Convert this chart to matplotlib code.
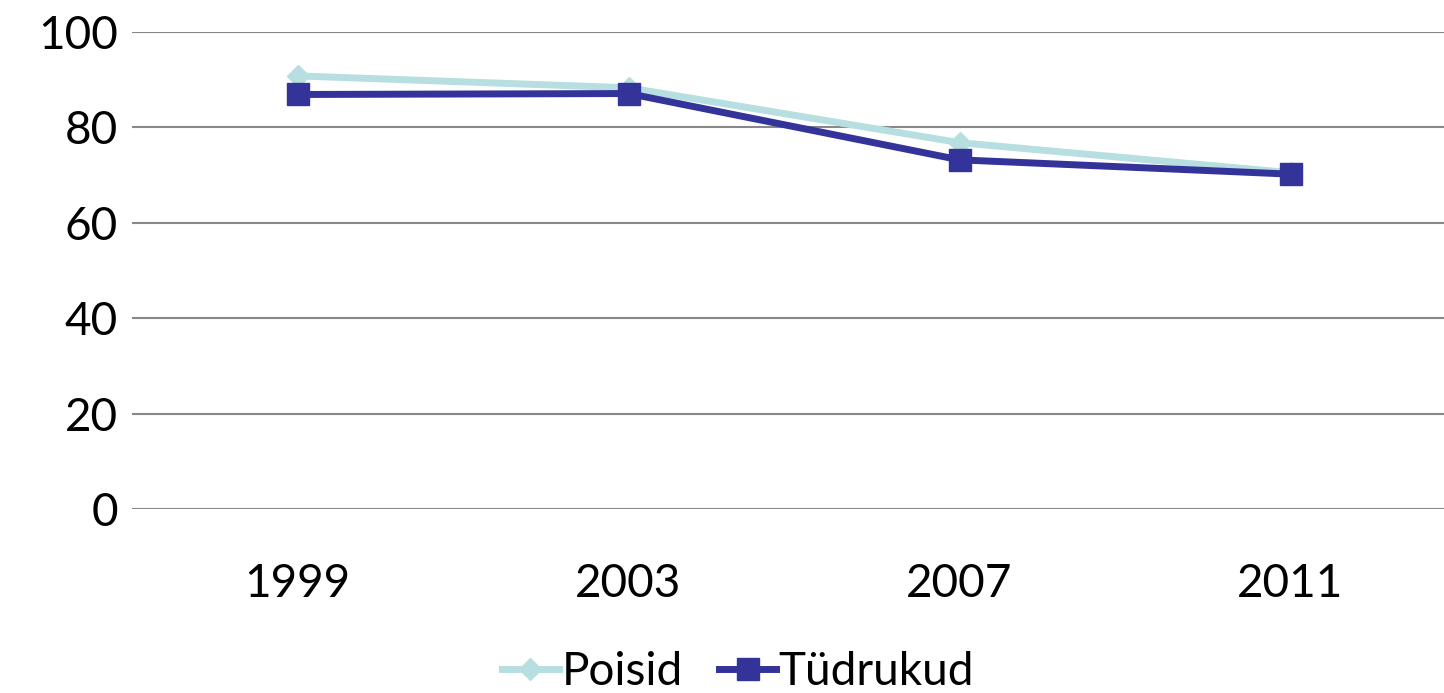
import numpy as np
import matplotlib.pyplot as plt

# data
years = ['1999', '2003', '2007', '2011']
poisid = [90.8, 88.3, 76.8, 70.5]
tudrukud = [86.9, 87.1, 73.2, 70.2]

plt.rcParams['font.family'] = ['Lato', 'DejaVu Sans']

W, H = 1444, 693
fig = plt.figure(figsize=(W / 100, H / 100), dpi=100)
ax = fig.add_axes([132 / W, (H - 509) / H, (W - 132) / W, (509 - 32) / H])

x = np.arange(len(years))
ax.plot(x, poisid, color='#B7DEE0', lw=5, marker='D', ms=11, label='Poisid', zorder=3)
ax.plot(x, tudrukud, color='#333399', lw=5, marker='s', ms=16, label='Tüdrukud', zorder=4)

ax.set_ylim(0, 100)
ax.set_yticks(range(0, 101, 20))
ax.set_xlim(-0.5, 3.5 - 12 / 331)
ax.set_xticks(x)
ax.set_xticklabels(years)
ax.grid(axis='y', color='#888888', lw=1.5)
ax.set_axisbelow(True)
for s in ax.spines.values():
    s.set_visible(False)
ax.tick_params(axis='both', length=0, labelsize=33, colors='black')
ax.tick_params(axis='y', pad=10)
ax.tick_params(axis='x', pad=39)

fig.legend(loc='center', bbox_to_anchor=(738 / W, (H - 672) / H), ncol=2, frameon=False,
           fontsize=33, handlelength=1.25, handletextpad=0.05, columnspacing=0.8,
           borderaxespad=0)

fig.savefig('out.png', dpi=100)
